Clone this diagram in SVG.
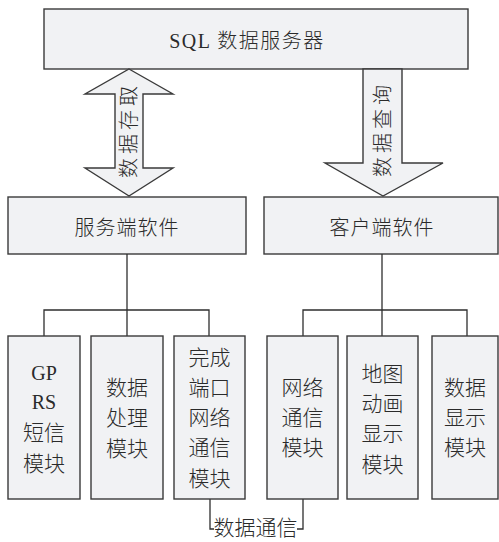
<svg xmlns="http://www.w3.org/2000/svg" width="499" height="542" viewBox="0 0 499 542">
<style>
.box{fill:#f1f2f4;stroke:#3a3a3a;stroke-width:1.4}
.ln{fill:none;stroke:#2e2e2e;stroke-width:1.3}
.t{font-family:"Liberation Serif","Noto Sans CJK SC",serif;fill:#2a2a2a;text-anchor:middle;font-weight:300}
.c{font-size:21px}
.m{font-size:20px}
</style>
<rect x="0" y="0" width="499" height="542" fill="#ffffff"/>
<g id="sql">
<rect class="box" x="44" y="9" width="424" height="60"/>
<text class="t" x="247" y="48" font-size="20" letter-spacing="1.5">SQL 数据服务器</text>
</g>
<g id="arrows">
<polygon class="box" points="129,69 173,94 143,94 143,168 173,168 129,196 85,168 115,168 115,94 85,94"/>
<text class="t m" transform="translate(136,130) rotate(-90)" letter-spacing="4">数据存取</text>
<polygon class="box" points="363,69 402,69 402,163 443,163 383,196 325,163 363,163"/>
<text class="t m" transform="translate(390,129) rotate(-90)" letter-spacing="4">数据查询</text>
</g>
<g id="server">
<rect class="box" x="8" y="197" width="238" height="57"/>
<text class="t m" x="127" y="235" letter-spacing="1">服务端软件</text>
</g>
<g id="client">
<rect class="box" x="264" y="197" width="234" height="57"/>
<text class="t m" x="382" y="235" letter-spacing="1">客户端软件</text>
</g>
<g id="connectors">
<path class="ln" d="M127,254 V310" stroke-width="2"/>
<path class="ln" d="M44,336 V310 H209 V336 M127,310 V336"/>
<path class="ln" d="M382,254 V336"/>
<path class="ln" d="M303,336 V310 H467 V336"/>
<path class="ln" d="M210,499 V529 H214"/>
<path class="ln" d="M303,499 V529 H297"/>
</g>
<g id="m1">
<rect class="box" x="8" y="336" width="72" height="163"/>
<text class="t m" x="44" y="380">GP</text>
<text class="t m" x="44" y="409">RS</text>
<text class="t c" x="44" y="440">短信</text>
<text class="t c" x="44" y="471">模块</text>
</g>
<g id="m2">
<rect class="box" x="91" y="336" width="72" height="163"/>
<text class="t c" x="127" y="395">数据</text>
<text class="t c" x="127" y="425">处理</text>
<text class="t c" x="127" y="456">模块</text>
</g>
<g id="m3">
<rect class="box" x="174" y="336" width="71" height="163"/>
<text class="t c" x="209.5" y="365">完成</text>
<text class="t c" x="209.5" y="395">端口</text>
<text class="t c" x="209.5" y="425">网络</text>
<text class="t c" x="209.5" y="455">通信</text>
<text class="t c" x="209.5" y="486">模块</text>
</g>
<g id="m4">
<rect class="box" x="267" y="336" width="71" height="163"/>
<text class="t c" x="302.5" y="395">网络</text>
<text class="t c" x="302.5" y="425">通信</text>
<text class="t c" x="302.5" y="455">模块</text>
</g>
<g id="m5">
<rect class="box" x="347" y="336" width="71" height="163"/>
<text class="t c" x="382.5" y="381">地图</text>
<text class="t c" x="382.5" y="411">动画</text>
<text class="t c" x="382.5" y="441">显示</text>
<text class="t c" x="382.5" y="472">模块</text>
</g>
<g id="m6">
<rect class="box" x="432" y="336" width="66" height="163"/>
<text class="t c" x="465" y="395">数据</text>
<text class="t c" x="465" y="425">显示</text>
<text class="t c" x="465" y="455">模块</text>
</g>
<g id="label">
<text class="t c" x="255.5" y="535">数据通信</text>
</g>
</svg>
